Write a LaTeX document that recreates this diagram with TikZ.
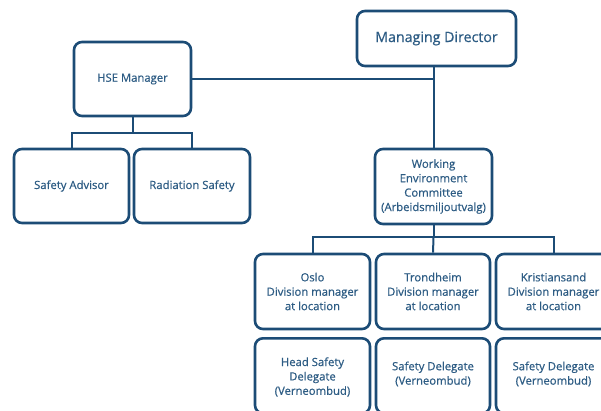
\documentclass[tikz,border=0pt]{standalone}
\usepackage{fontspec}
\setmainfont{Open Sans}[BoldFont={Open Sans},BoldFeatures={FakeBold=0.6}]
\definecolor{boxc}{RGB}{28,76,118}
\definecolor{txtc}{RGB}{45,92,132}
\begin{document}
\begin{tikzpicture}[x=1pt,y=-1pt,
  box/.style={draw=boxc,line width=2.6pt,rounded corners=8pt,fill=white,
    text=txtc,align=center,font=\fontsize{11.3}{14.4}\selectfont\bfseries,inner sep=0pt},
  lbl/.style={text=txtc,align=center,font=\fontsize{11.3}{14.4}\selectfont\bfseries},
  conn/.style={draw=boxc,line width=2pt}]
\useasboundingbox (0,0) rectangle (601,410);
\clip (0,0) rectangle (601,410);
\node[box,minimum width=159pt,minimum height=55pt,font=\fontsize{14.2}{17}\selectfont\bfseries] (md) at (436.5,38.5) {Managing Director};
\node[box,minimum width=117pt,minimum height=74pt] (hse) at (132.5,79) {HSE Manager};
\node[box,minimum width=115pt,minimum height=74pt] (sa) at (71.5,186) {Safety Advisor};
\node[box,minimum width=116pt,minimum height=74pt] (rs) at (192,186) {Radiation Safety};
\node[box,minimum width=117pt,minimum height=75pt] (wec) at (433.5,186.5) {Working\\Environment\\Committee\\(Arbeidsmiljoutvalg)};
\node[box,minimum width=115pt,minimum height=75pt] (oslo) at (312.5,291.5) {Oslo\\Division manager\\at location};
\node[box,minimum width=114pt,minimum height=75pt] (trd) at (433,291.5) {Trondheim\\Division manager\\at location};
\node[box,minimum width=115pt,minimum height=75pt] (kri) at (553.5,291.5) {Kristiansand\\Division manager\\at location};
\node[box,minimum width=115pt,minimum height=75pt,anchor=north] (hsd) at (312.5,337) {};
\node[box,minimum width=114pt,minimum height=75pt,anchor=north] (sd1) at (433,337) {};
\node[box,minimum width=115pt,minimum height=75pt,anchor=north] (sd2) at (553.5,337) {};
\node[lbl] (hsdt) at (312.5,377) {Head Safety\\Delegate\\(Verneombud)};
\node[lbl] (sd1t) at (433,374) {Safety Delegate\\(Verneombud)};
\node[lbl] (sd2t) at (553.5,374) {Safety Delegate\\(Verneombud)};
% connectors
\coordinate (j1) at (wec.north |- hse.east);
\draw[conn] (md.south -| wec.north) -- (wec.north);
\draw[conn] (hse.east) -- (j1);
\draw[conn] (hse.south) -- ++(0,16) coordinate (j2);
\draw[conn] (j2) -| (sa.north);
\draw[conn] (j2) -| (rs.north);
\draw[conn] (wec.south) -- ++(0,12) coordinate (j3);
\draw[conn] (j3) -| (oslo.north);
\draw[conn] (j3) -| (kri.north);
\draw[conn] (j3) -- (trd.north);
\end{tikzpicture}
\end{document}
